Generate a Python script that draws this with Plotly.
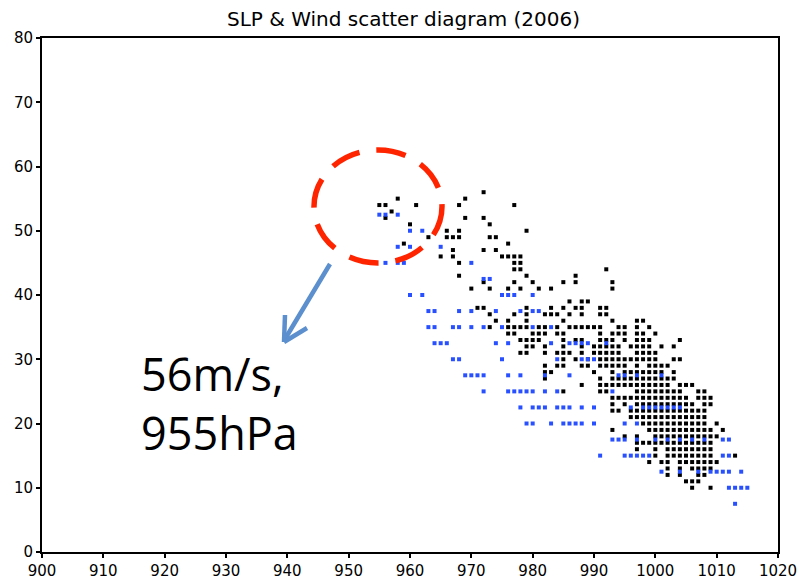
import plotly.graph_objects as go

# ---------------- data ----------------
black_wind_levels = [56, 55, 54, 53, 52, 51, 50, 49, 48, 47, 46, 45, 44, 43, 42, 41,
                     39, 38, 37, 36, 35, 34, 33, 32, 31, 30, 29, 28, 27, 26, 25, 24,
                     23, 22, 21, 20, 19, 18, 17, 16, 15, 14, 13, 12, 11, 10]
black_slp_rows = [
    [972],
    [958, 969],
    [955, 956, 961, 968, 977],
    [957],
    [956, 969, 972],
    [960, 973],
    [966, 968, 979],
    [963, 966, 967, 968, 973, 974],
    [959, 976],
    [967, 972, 974],
    [965, 967, 975, 976, 977, 978],
    [968, 977, 978],
    [977, 978, 992],
    [968, 979, 987],
    [972, 977, 980, 985, 987, 993],
    [970, 973, 976, 978, 981, 983, 993],
    [986, 988, 989],
    [971, 972, 979, 983, 985, 987, 988, 991, 992],
    [973, 977, 979, 982, 983, 984, 986, 988, 991, 992],
    [974, 976, 979, 985, 993, 997, 998],
    [973, 976, 977, 978, 979, 981, 982, 984, 986, 987, 988, 989, 990, 991, 994, 995, 997, 999],
    [976, 977, 980, 981, 982, 984, 985, 991, 993, 994, 995, 997, 998, 1000],
    [978, 979, 980, 981, 985, 987, 988, 991, 992, 993, 995, 997, 998, 999, 1004],
    [979, 980, 982, 985, 988, 990, 991, 992, 993, 994, 996, 997, 998, 999, 1001, 1003],
    [978, 979, 982, 984, 985, 986, 988, 990, 991, 992, 993, 994, 997, 998, 999, 1000],
    [985, 987, 989, 991, 992, 993, 994, 995, 996, 997, 998, 999, 1000, 1003, 1004],
    [982, 984, 985, 988, 989, 991, 992, 993, 994, 995, 997, 999, 1000, 1001, 1002],
    [982, 983, 990, 993, 995, 996, 997, 998, 999, 1000, 1001, 1003],
    [982, 991, 993, 994, 995, 996, 997, 998, 999, 1000, 1001, 1002, 1003],
    [988, 991, 992, 993, 994, 995, 996, 997, 998, 999, 1000, 1001, 1002, 1004, 1005, 1006],
    [985, 991, 992, 997, 998, 999, 1000, 1001, 1002, 1003, 1004, 1007, 1008],
    [993, 994, 995, 996, 997, 998, 999, 1000, 1001, 1002, 1003, 1004, 1005, 1007, 1008, 1009],
    [993, 995, 997, 998, 999, 1000, 1001, 1002, 1003, 1004, 1005, 1006, 1008, 1009],
    [993, 994, 996, 997, 998, 999, 1000, 1001, 1002, 1003, 1004, 1005, 1006, 1007, 1008],
    [996, 997, 998, 999, 1000, 1001, 1002, 1003, 1004, 1005, 1006, 1007, 1008],
    [998, 999, 1000, 1001, 1002, 1003, 1004, 1005, 1006, 1007, 1008, 1010],
    [993, 999, 1000, 1001, 1002, 1003, 1004, 1005, 1006, 1007, 1008, 1009, 1011],
    [995, 997, 1000, 1001, 1002, 1003, 1004, 1005, 1006, 1007, 1008, 1009, 1010],
    [997, 998, 999, 1000, 1001, 1002, 1003, 1004, 1005, 1006, 1007, 1008, 1009],
    [997, 1000, 1002, 1003, 1004, 1005, 1006, 1007, 1008, 1009],
    [1000, 1002, 1003, 1004, 1005, 1006, 1007, 1008, 1009, 1013],
    [999, 1001, 1002, 1004, 1005, 1006, 1007, 1008, 1009, 1010],
    [1002, 1004, 1006, 1007, 1008, 1009],
    [1002, 1004, 1007, 1008],
    [1005, 1006, 1007],
    [1006, 1009],
]

blue_wind_levels = [52.5, 50, 47.5, 45, 42.5, 40, 37.5, 35, 32.5, 30, 27.5, 25,
                    22.5, 20, 17.5, 15, 12.5, 10, 7.5]
blue_slp_rows = [
    [955, 956, 958],
    [960, 962],
    [958, 960, 965],
    [956, 958, 959, 970],
    [972, 973],
    [960, 962, 975, 976, 977, 980],
    [963, 964, 968, 970, 974, 978, 980, 981],
    [963, 964, 967, 968, 970, 972, 975, 980, 983],
    [964, 965, 966, 974, 976, 983, 986, 987, 988, 989, 992],
    [967, 968, 975, 984, 988, 989, 990],
    [969, 970, 971, 972, 976, 978, 982, 986, 994, 995, 997, 1001],
    [972, 976, 977, 978, 979, 980, 982, 984, 993],
    [978, 980, 981, 982, 984, 985, 986, 988, 990, 996, 998, 999, 1000, 1001, 1002, 1003, 1004],
    [979, 980, 983, 985, 986, 987, 988, 990, 995, 997],
    [993, 994, 995, 997, 1000, 1002, 1004, 1006, 1008, 1011, 1012],
    [991, 995, 996, 997, 998, 999, 1011, 1012],
    [1001, 1004, 1007, 1009, 1010, 1011, 1012, 1014],
    [1012, 1013, 1014, 1015],
    [1013],
]

x_ticks = [900, 910, 920, 930, 940, 950, 960, 970, 980, 990, 1000, 1010, 1020]
y_ticks = [0, 10, 20, 30, 40, 50, 60, 70, 80]

title_text = "SLP &amp; Wind scatter diagram (2006)"
note_text = "56m/s,<br>955hPa"

# flatten rows
black_x, black_y = [], []
for w, row in zip(black_wind_levels, black_slp_rows):
    for p in row:
        black_x.append(p)
        black_y.append(w)
blue_x, blue_y = [], []
for w, row in zip(blue_wind_levels, blue_slp_rows):
    for p in row:
        blue_x.append(p)
        blue_y.append(w)

# ---------------- figure ----------------
W, H = 807, 583
L, R, T, B = 42, 29, 38, 31
PW, PH = W - L - R, H - T - B


def px(x):
    return (x - L) / PW


def py(y):
    return (H - B - y) / PH


fig = go.Figure()
fig.add_trace(go.Scatter(x=black_x, y=black_y, mode="markers",
                         marker=dict(symbol="square", size=4, color="black",
                                     line=dict(width=0)),
                         showlegend=False, hoverinfo="x+y"))
fig.add_trace(go.Scatter(x=blue_x, y=blue_y, mode="markers",
                         marker=dict(symbol="square", size=4, color="#2850ff",
                                     line=dict(width=0)),
                         showlegend=False, hoverinfo="x+y"))

shapes = []
# red dashed ellipse
shapes.append(dict(type="circle", xref="paper", yref="paper",
                   x0=px(314), x1=px(442), y0=py(263), y1=py(150),
                   line=dict(color="#FF2400", width=5.5, dash="30px,17px")))
# blue arrow: shaft and open head
arrow_col = "#5B8FCD"
shapes.append(dict(type="line", xref="paper", yref="paper",
                   x0=px(330), y0=py(264), x1=px(285), y1=py(339),
                   line=dict(color=arrow_col, width=4.5)))
shapes.append(dict(type="line", xref="paper", yref="paper",
                   x0=px(284), y0=py(342), x1=px(285), y1=py(315),
                   line=dict(color=arrow_col, width=4.5)))
shapes.append(dict(type="line", xref="paper", yref="paper",
                   x0=px(284), y0=py(342), x1=px(307), y1=py(328),
                   line=dict(color=arrow_col, width=4.5)))

fig.update_layout(
    width=W, height=H,
    margin=dict(l=L, r=R, t=T, b=B, pad=0, autoexpand=False),
    paper_bgcolor="white", plot_bgcolor="white",
    title=dict(text=title_text, x=px(410), xanchor="center",
               y=1 - 19 / H, yanchor="middle",
               font=dict(family="DejaVu Sans", size=20, color="black")),
    xaxis=dict(range=[900, 1020], tickvals=x_ticks,
               ticktext=[str(v) for v in x_ticks], automargin=False,
               showgrid=False, zeroline=False,
               showline=True, linecolor="black", linewidth=2, mirror=True,
               ticks="outside", ticklen=4, tickwidth=1.5, tickcolor="black",
               tickfont=dict(family="DejaVu Sans", size=15, color="black")),
    yaxis=dict(range=[0, 80], tickvals=y_ticks,
               ticktext=[str(v) for v in y_ticks], automargin=False,
               showgrid=False, zeroline=False,
               showline=True, linecolor="black", linewidth=2, mirror=True,
               ticks="outside", ticklen=4, tickwidth=1.5, tickcolor="black",
               tickfont=dict(family="DejaVu Sans", size=15, color="black")),
    shapes=shapes,
    annotations=[dict(text=note_text, xref="paper", yref="paper",
                      x=px(139), y=py(403), xanchor="left", yanchor="middle",
                      align="left", showarrow=False,
                      font=dict(family="Open Sans", size=45, color="black"))],
)

fig.write_html("out.html")
